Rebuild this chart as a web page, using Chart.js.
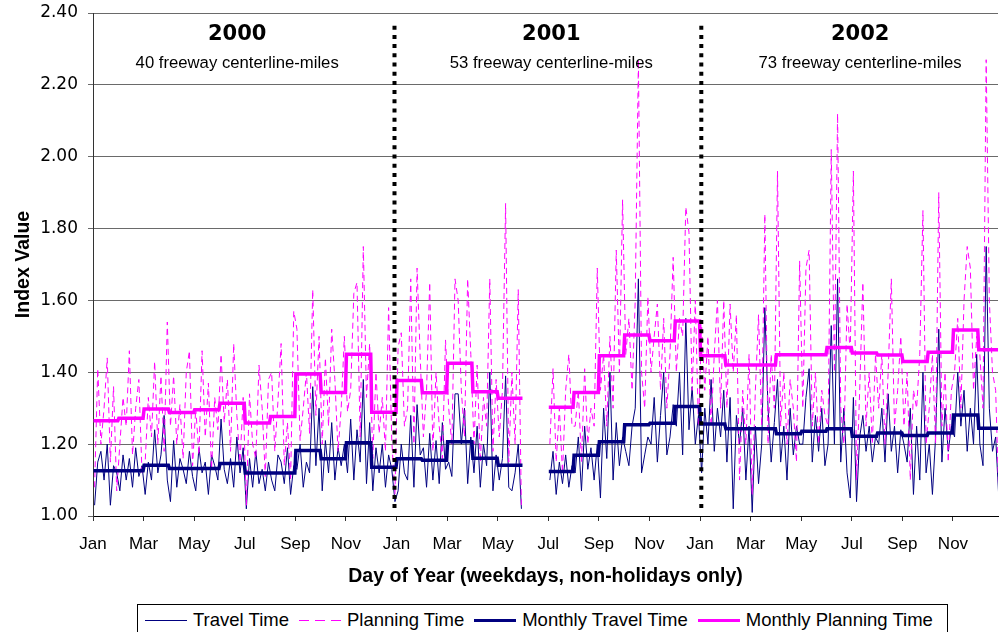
<!doctype html>
<html>
<head>
<meta charset="utf-8">
<title>Index Value</title>
<script src="https://cdn.jsdelivr.net/npm/chart.js@4.4.1/dist/chart.umd.min.js"></script>
<style>
	body { margin: 0; background: #fff; width: 999px; height: 632px; overflow: hidden; position: relative; font-family: 'Liberation Sans', Arial, sans-serif; }
	#wrap { position: absolute; left: 0; top: 0; width: 999px; height: 592px; }
	#legend { position: absolute; left: 137px; top: 604px; width: 811px; height: 40px; box-sizing: border-box; border: 1px solid #000; display: flex; align-items: flex-start; padding: 0 0 0 7px; font-size: 18.5px; line-height: 20px; color: #000; }
	.item { display: flex; align-items: center; height: 20px; margin-top: 5px; margin-right: 10px; white-space: nowrap; }
	.swatch { width: 42px; margin-right: 6px; }
	.s-travel { height: 1px; background: #000080; }
	.s-planning { height: 1px; background: repeating-linear-gradient(90deg, #ff00ff 0 10px, transparent 10px 16px); }
	.s-mtravel { height: 3px; background: #000080; }
	.s-mplanning { height: 3px; background: #ff00ff; }
</style>
</head>
<body>
<div id="wrap"><canvas id="IndexChart"></canvas></div>
<!-- legend -->
<div id="legend">
	<div class="item"><div class="swatch s-travel"></div>Travel Time</div>
	<div class="item"><div class="swatch s-planning"></div>Planning Time</div>
	<div class="item"><div class="swatch s-mtravel"></div>Monthly Travel Time</div>
	<div class="item"><div class="swatch s-mplanning"></div>Monthly Planning Time</div>
</div>
<script>
	// x axis runs in months from Jan 2000 (0) to Dec 2002
	var monthLabels = ['Jan', 'Mar', 'May', 'Jul', 'Sep', 'Nov'];
	var tickMonths = [0, 2, 4, 6, 8, 10, 12, 14, 16, 18, 20, 22, 24, 26, 28, 30, 32, 34];

	var yearLabels = ['2000', '2001', '2002'];
	var yearMiles = ['40 freeway centerline-miles', '53 freeway centerline-miles', '73 freeway centerline-miles'];
	var yearLabelPos = [5.7, 18.12, 30.33];
	var dividerMonths = [11.92, 24.05];
	var dividerRange = [1.022, 2.378];

	// 8 readings per month (weekday samples)
	var travelDaily = [
		// 2000
		1.03, 1.15, 1.18, 1.10, 1.20, 1.03, 1.14, 1.12,
		1.07, 1.17, 1.10, 1.16, 1.08, 1.19, 1.11, 1.14,
		1.06, 1.15, 1.10, 1.24, 1.12, 1.17, 1.28, 1.10,
		1.04, 1.21, 1.08, 1.16, 1.13, 1.09, 1.18, 1.11,
		1.07, 1.19, 1.12, 1.15, 1.06, 1.17, 1.14, 1.10,
		1.27, 1.13, 1.09, 1.16, 1.08, 1.22, 1.12, 1.19,
		1.02, 1.16, 1.08, 1.18, 1.09, 1.13, 1.07, 1.15,
		1.10, 1.07, 1.17, 1.15, 1.09, 1.19, 1.06, 1.14,
		1.13, 1.20, 1.08, 1.15, 1.12, 1.36, 1.14, 1.30,
		1.07, 1.21, 1.12, 1.26, 1.10, 1.19, 1.14, 1.20,
		1.12, 1.27, 1.10, 1.24, 1.15, 1.38, 1.09, 1.26,
		1.07, 1.19, 1.12, 1.20, 1.08, 1.17, 1.13, 1.04,
		// 2001
		1.07, 1.20, 1.12, 1.10, 1.28, 1.08, 1.31, 1.17,
		1.19, 1.08, 1.23, 1.10, 1.21, 1.09, 1.26, 1.13,
		1.15, 1.11, 1.34, 1.34, 1.20, 1.30, 1.09, 1.22,
		1.12, 1.25, 1.08, 1.20, 1.14, 1.40, 1.07, 1.17,
		1.10, 1.16, 1.39, 1.08, 1.07, 1.12, 1.20, 1.02,
		null, null, null, null, null, null, null, null,
		1.10, 1.18, 1.06, 1.15, 1.09, 1.17, 1.08, 1.14,
		1.12, 1.22, 1.07, 1.25, 1.13, 1.19, 1.10, 1.20,
		1.05, 1.30, 1.16, 1.40, 1.10, 1.26, 1.14, 1.22,
		1.18, 1.14, 1.25, 1.30, 1.66, 1.12, 1.17, 1.22,
		1.20, 1.33, 1.15, 1.28, 1.40, 1.17, 1.22, 1.31,
		1.25, 1.40, 1.17, 1.55, 1.24, 1.36, 1.20, 1.28,
		// 2002
		1.12, 1.30, 1.20, 1.38, 1.18, 1.30, 1.22, 1.35,
		1.15, 1.33, 1.02, 1.28, 1.20, 1.30, 1.10, 1.25,
		1.01, 1.25, 1.09, 1.20, 1.58, 1.30, 1.15, 1.26,
		1.38, 1.15, 1.25, 1.10, 1.30, 1.17, 1.25, 1.20,
		1.20, 1.33, 1.41, 1.15, 1.28, 1.18, 1.30, 1.14,
		1.20, 1.53, 1.20, 1.66, 1.15, 1.30, 1.12, 1.05,
		1.33, 1.04, 1.22, 1.28, 1.18, 1.25, 1.15, 1.22,
		1.20, 1.30, 1.15, 1.34, 1.18, 1.25, 1.12, 1.24,
		1.20, 1.15, 1.30, 1.06, 1.25, 1.10, 1.40, 1.12,
		1.20, 1.06, 1.22, 1.52, 1.15, 1.30, 1.18, 1.25,
		1.22, 1.40, 1.25, 1.35, 1.18, 1.30, 1.20, 1.45,
		1.20, 1.14, 1.75, 1.30, 1.18, 1.22, 1.05, 1.15
	];

	var planningDaily = [
		// 2000
		1.08, 1.41, 1.20, 1.30, 1.44, 1.15, 1.36, 1.07,
		1.20, 1.33, 1.25, 1.46, 1.17, 1.30, 1.38, 1.12,
		1.15, 1.33, 1.22, 1.43, 1.20, 1.39, 1.18, 1.54,
		1.25, 1.39, 1.20, 1.31, 1.16, 1.40, 1.46, 1.14,
		1.30, 1.17, 1.46, 1.22, 1.37, 1.13, 1.33, 1.24,
		1.45, 1.26, 1.38, 1.18, 1.48, 1.28, 1.15, 1.33,
		1.03, 1.34, 1.20, 1.16, 1.42, 1.30, 1.11, 1.38,
		1.40, 1.18, 1.32, 1.48, 1.14, 1.26, 1.10, 1.57,
		1.52, 1.21, 1.30, 1.40, 1.23, 1.63, 1.28, 1.50,
		1.20, 1.44, 1.25, 1.52, 1.38, 1.18, 1.30, 1.50,
		1.29, 1.35, 1.62, 1.65, 1.22, 1.75, 1.33, 1.48,
		1.16, 1.40, 1.23, 1.33, 1.18, 1.58, 1.21, 1.06,
		// 2001
		1.47, 1.51, 1.25, 1.30, 1.66, 1.20, 1.69, 1.44,
		1.22, 1.35, 1.65, 1.18, 1.40, 1.25, 1.16, 1.49,
		1.30, 1.20, 1.66, 1.60, 1.35, 1.22, 1.66, 1.45,
		1.20, 1.42, 1.15, 1.33, 1.25, 1.66, 1.18, 1.38,
		1.22, 1.35, 1.87, 1.15, 1.40, 1.20, 1.63, 1.02,
		null, null, null, null, null, null, null, null,
		1.20, 1.41, 1.15, 1.30, 1.12, 1.35, 1.45, 1.25,
		1.25, 1.35, 1.15, 1.41, 1.20, 1.30, 1.25, 1.69,
		1.35, 1.45, 1.25, 1.50, 1.30, 1.74, 1.40, 1.88,
		1.45, 1.55, 1.35, 1.60, 2.27, 1.40, 1.30, 1.61,
		1.40, 1.50, 1.59, 1.35, 1.55, 1.30, 1.45, 1.72,
		1.40, 1.55, 1.50, 1.86, 1.79, 1.35, 1.60, 1.25,
		// 2002
		1.53, 1.35, 1.50, 1.25, 1.45, 1.60, 1.30, 1.60,
		1.30, 1.59, 1.40, 1.56, 1.10, 1.35, 1.20, 1.45,
		1.06, 1.35, 1.56, 1.25, 1.84, 1.20, 1.45, 1.30,
		1.96, 1.25, 1.40, 1.20, 1.38, 1.30, 1.15, 1.71,
		1.30, 1.69, 1.74, 1.25, 1.40, 1.20, 1.35, 1.28,
		1.25, 2.02, 1.40, 2.12, 1.30, 1.20, 1.59, 1.45,
		1.96, 1.10, 1.35, 1.65, 1.25, 1.40, 1.20, 1.45,
		1.30, 1.45, 1.20, 1.40, 1.66, 1.25, 1.35, 1.50,
		1.25, 1.40, 1.10, 1.35, 1.30, 1.45, 1.85, 1.20,
		1.30, 1.45, 1.20, 1.90, 1.25, 1.40, 1.15, 1.35,
		1.40, 1.55, 1.30, 1.60, 1.75, 1.69, 1.35, 1.50,
		1.45, 1.30, 2.27, 1.60, 1.40, 1.35, 1.05, 1.30
	];

	var monthlyTravel = [
		1.126, 1.126, 1.141, 1.132, 1.132, 1.146, 1.120, 1.120, 1.182, 1.159, 1.204, 1.136,
		1.159, 1.155, 1.207, 1.161, 1.141, null, 1.124, 1.169, 1.207, 1.254, 1.258, 1.305,
		1.256, 1.243, 1.243, 1.229, 1.236, 1.243, 1.222, 1.231, 1.224, 1.231, 1.281, 1.244
	];
	var monthlyPlanning = [
		1.265, 1.272, 1.298, 1.288, 1.296, 1.314, 1.259, 1.277, 1.395, 1.344, 1.450, 1.289,
		1.377, 1.343, 1.425, 1.346, 1.328, null, 1.303, 1.344, 1.446, 1.504, 1.488, 1.543,
		1.446, 1.420, 1.420, 1.449, 1.449, 1.469, 1.454, 1.448, 1.430, 1.456, 1.518, 1.463
	];

	var PER_MONTH = 8;

	function dailyPoints(values) {
		return values.map(function (v, i) {
			return { x: Math.floor(i / PER_MONTH) + (i % PER_MONTH + 0.5) / PER_MONTH, y: v };
		});
	}
	function monthlyPoints(values) {
		var pts = [];
		values.forEach(function (v, m) {
			if (v === null) { pts.push({ x: m + 0.5, y: null }); return; }
			pts.push({ x: m + 0.02, y: v }, { x: m + 0.98, y: v });
		});
		return pts;
	}

	// year headings inside the plot
	var yearTextPlugin = {
		id: 'yearText',
		afterDatasetsDraw: function (chart) {
			var c = chart.ctx, x = chart.scales.x, y = chart.scales.y;
			c.save();
			c.fillStyle = '#000';
			c.textAlign = 'center';
			c.textBaseline = 'alphabetic';
			yearLabels.forEach(function (label, i) {
				var px = x.getPixelForValue(yearLabelPos[i]);
				c.font = 'bold 21px "DejaVu Sans"';
				c.fillText(label, px, y.getPixelForValue(2.325));
				c.font = '16.7px "Liberation Sans"';
				c.fillText(yearMiles[i], px, y.getPixelForValue(2.247));
			});
			c.restore();
		}
	};

	Chart.defaults.font.family = "'Liberation Sans', Arial, sans-serif";
	Chart.defaults.color = '#000';

	var datasets = [
		{ label: 'Travel Time', data: dailyPoints(travelDaily), borderColor: '#000080', borderWidth: 1, order: 4 },
		{ label: 'Planning Time', data: dailyPoints(planningDaily), borderColor: '#ff00ff', borderWidth: 1, borderDash: [6, 4], order: 3 },
		{ label: 'Monthly Travel Time', data: monthlyPoints(monthlyTravel), borderColor: '#000080', borderWidth: 3.5, order: 2 },
		{ label: 'Monthly Planning Time', data: monthlyPoints(monthlyPlanning), borderColor: '#ff00ff', borderWidth: 3.5, order: 1 }
	];
	dividerMonths.forEach(function (m) {
		datasets.push({
			label: 'divider',
			data: [{ x: m, y: dividerRange[0] }, { x: m, y: dividerRange[1] }],
			borderColor: '#000', borderWidth: 4, borderDash: [4, 5.2], borderCapStyle: 'butt', order: 0
		});
	});

	new Chart('IndexChart', {
		type: 'line',
		data: { datasets: datasets },
		plugins: [yearTextPlugin],
		options: {
			responsive: true,
			maintainAspectRatio: false,
			animation: false,
			spanGaps: false,
			layout: { padding: { top: 13, right: 1, left: 0, bottom: 0 } },
			elements: { point: { radius: 0 }, line: { tension: 0 } },
			plugins: { legend: { display: false }, tooltip: { enabled: false } },
			scales: {
				x: {
					type: 'linear',
					min: 0,
					max: 35.78,
					afterBuildTicks: function (s) { s.ticks = tickMonths.map(function (v) { return { value: v }; }); },
					afterFit: function (s) { s.height = 76; },
					ticks: {
						callback: function (v) { return monthLabels[(v / 2) % 6]; },
						font: { size: 17 },
						color: '#000',
						padding: 13,
						maxRotation: 0,
						autoSkip: false
					},
					grid: { drawOnChartArea: false, drawTicks: true, tickLength: 5, color: '#333' },
					border: { color: '#000' },
					title: {
						display: true,
						text: 'Day of Year (weekdays, non-holidays only)',
						font: { size: 19.5, weight: 'bold' },
						color: '#000',
						padding: { top: 0, bottom: 4 }
					}
				},
				y: {
					min: 1,
					max: 2.4,
					afterFit: function (s) { s.width = 93; s.paddingTop = 0; s.paddingBottom = 0; },
					ticks: {
						stepSize: 0.2,
						callback: function (v) { return v.toFixed(2); },
						font: { family: 'DejaVu Sans', size: 17 },
						color: '#000',
						padding: 10
					},
					grid: { color: '#6a6a6a', tickLength: 5 },
					border: { color: '#333' },
					title: {
						display: true,
						text: 'Index Value',
						font: { size: 19.5, weight: 'bold' },
						color: '#000',
						padding: { top: 12, bottom: 0 }
					}
				}
			}
		}
	});
</script>
</body>
</html>
